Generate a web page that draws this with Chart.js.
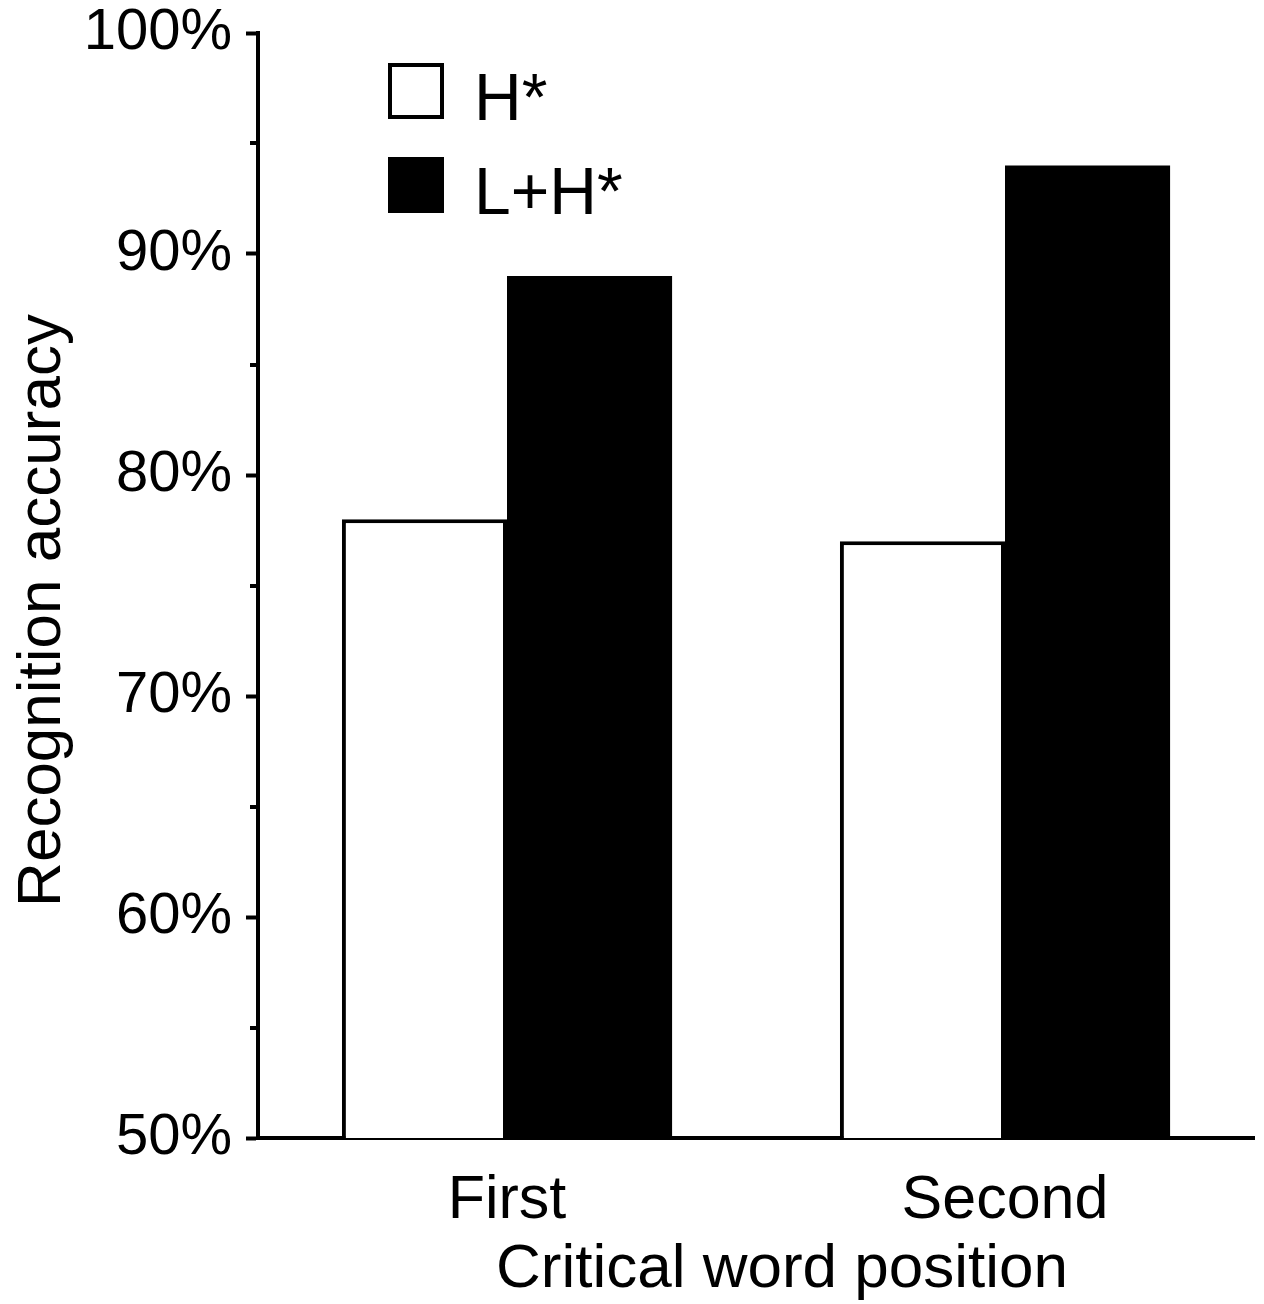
<!DOCTYPE html>
<html>
<head>
<meta charset="utf-8">
<title>Recognition accuracy</title>
<script src="https://cdn.jsdelivr.net/npm/chart.js@4.4.1/dist/chart.umd.min.js"></script>
<style>
    html, body { margin: 0; padding: 0; background: #ffffff; }
    canvas { display: block; }
</style>
</head>
<body>
<canvas id="accuracyChart" width="1264" height="1304"></canvas>
<script>
// データ
const positions = ['First', 'Second'];
const seriesNames = ['H*', 'L+H*'];
const accentH = [78, 77];     // H*
const accentLH = [89, 94];    // L+H*
const yTicks = [50, 60, 70, 80, 90, 100];
const xTitle = 'Critical word position';
const yTitle = 'Recognition accuracy';

const FONT = "'Liberation Sans', Arial, Helvetica, sans-serif";

// 5%刻みの短い目盛り
const minorTickPlugin = {
    id: 'minorTicks',
    afterDraw(chart) {
        const y = chart.scales.y;
        const ctx = chart.ctx;
        ctx.save();
        ctx.strokeStyle = '#000';
        ctx.lineWidth = 4;
        for (let i = 0; i < yTicks.length - 1; i++) {
            const v = (yTicks[i] + yTicks[i + 1]) / 2;
            const py = Math.round(y.getPixelForValue(v));
            ctx.beginPath();
            ctx.moveTo(y.right - 8, py);
            ctx.lineTo(y.right, py);
            ctx.stroke();
        }
        ctx.restore();
    }
};

// 軸タイトル（元の図に合わせて少しずらして描画）
const axisTitlePlugin = {
    id: 'axisTitles',
    afterDraw(chart) {
        const ctx = chart.ctx;
        const area = chart.chartArea;
        ctx.save();
        ctx.fillStyle = '#000';
        ctx.font = '62px ' + FONT;
        ctx.textAlign = 'center';
        ctx.textBaseline = 'alphabetic';
        // x軸タイトル
        ctx.fillText(xTitle, (area.left + area.right) / 2 + 26, chart.height - 17);
        // y軸タイトル
        ctx.translate(60, (area.top + area.bottom) / 2 + 25);
        ctx.rotate(-Math.PI / 2);
        ctx.fillText(yTitle, 0, 0);
        ctx.restore();
    }
};

// 凡例（グラフ領域内の左上）
const insideLegendPlugin = {
    id: 'insideLegend',
    afterDraw(chart) {
        const ctx = chart.ctx;
        const area = chart.chartArea;
        const box = 56;
        const x0 = area.left + 130;
        let top = area.top + 30;
        ctx.save();
        ctx.font = '66px ' + FONT;
        ctx.textBaseline = 'alphabetic';
        ctx.textAlign = 'left';
        chart.data.datasets.forEach(ds => {
            ctx.fillStyle = ds.backgroundColor;
            ctx.fillRect(x0, top, box, box);
            ctx.strokeStyle = '#000';
            ctx.lineWidth = 4;
            ctx.strokeRect(x0 + 2, top + 2, box - 4, box - 4);
            ctx.fillStyle = '#000';
            ctx.fillText(ds.label, x0 + box + 30, top + box + 1);
            top += 94;
        });
        ctx.restore();
    }
};

new Chart(document.getElementById('accuracyChart'), {
    type: 'bar',
    data: {
        labels: positions,
        datasets: [
            {
                label: seriesNames[0],
                data: accentH,
                backgroundColor: '#ffffff',
                borderColor: '#000000',
                borderWidth: 4
            },
            {
                label: seriesNames[1],
                data: accentLH,
                backgroundColor: '#000000',
                borderColor: '#000000',
                borderWidth: 0
            }
        ]
    },
    options: {
        responsive: false,
        devicePixelRatio: 1,
        animation: false,
        layout: {
            padding: { left: 0, right: 10, top: 33, bottom: 0 }
        },
        datasets: {
            bar: {
                categoryPercentage: 0.663,
                barPercentage: 1.0
            }
        },
        plugins: {
            legend: { display: false },
            tooltip: { enabled: false }
        },
        scales: {
            x: {
                z: 1,
                grid: { display: false, drawTicks: false },
                border: { display: true, color: '#000', width: 4 },
                ticks: {
                    color: '#000',
                    padding: 33,
                    font: { family: FONT, size: 61, lineHeight: 1 }
                },
                afterFit(scale) {
                    scale.height = 166;
                    scale.paddingLeft = 0;
                    scale.paddingRight = 0;
                }
            },
            y: {
                z: 1,
                min: yTicks[0],
                max: yTicks[yTicks.length - 1],
                afterBuildTicks(scale) {
                    scale.ticks = yTicks.map(v => ({ value: v }));
                },
                grid: {
                    drawOnChartArea: false,
                    drawTicks: true,
                    tickLength: 12,
                    tickWidth: 4,
                    tickColor: '#000'
                },
                border: { display: true, color: '#000', width: 4 },
                ticks: {
                    color: '#000',
                    padding: 14,
                    font: { family: FONT, size: 58, lineHeight: 1 },
                    callback: v => v + '%'
                },
                afterFit(scale) {
                    scale.width = 258;
                    scale.paddingTop = 0;
                    scale.paddingBottom = 0;
                }
            }
        }
    },
    plugins: [minorTickPlugin, axisTitlePlugin, insideLegendPlugin]
});
</script>
</body>
</html>
